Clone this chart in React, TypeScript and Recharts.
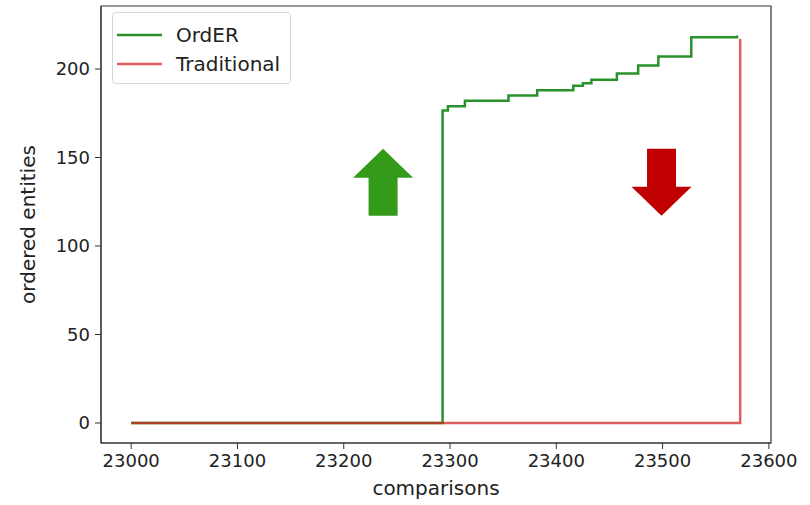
import { LineChart, Line, XAxis, YAxis, ReferenceDot, ReferenceArea, Label } from 'recharts'

// OrdER: ordered entities vs comparisons (step curve)
const orderComparisons = [23000, 23293, 23298, 23314, 23355, 23382, 23416, 23425, 23433, 23457, 23477, 23496, 23527, 23570]
const orderEntities = [0, 176.5, 179, 182, 185, 188, 190.5, 192, 194, 197.5, 202, 207, 218, 219]

// Traditional: nothing ordered until the very end
const tradComparisons = [23000, 23573, 23573]
const tradEntities = [0, 0, 217]

const xTicks = [23000, 23100, 23200, 23300, 23400, 23500, 23600]
const yTicks = [0, 50, 100, 150, 200]

// the two big arrows drawn on the plot
const arrowX = [23237, 23499]
const arrowY = [136, 136]
const arrowDir = ['up', 'down']
const arrowColor = ['#339a1a', '#c00000']

const X_DOMAIN = [22971.6, 23602]
const Y_DOMAIN = [-11.3, 235.6]

const GREEN = '#2a922a'
const RED = '#d62728'
const FONT = '"DejaVu Sans", sans-serif'

const orderData = orderComparisons.map((x, i) => ({ x, y: orderEntities[i] }))
const tradData = tradComparisons.map((x, i) => ({ x, y: tradEntities[i] }))

function Arrow(props: any) {
  const { cx, cy, dir, color } = props
  const hw = 30, sw = 14.5, head = 29, half = 33.5
  const s = dir === 'up' ? -1 : 1
  const tip = cy + s * half
  const base = tip - s * head
  const tail = cy - s * half
  const pts = [
    [cx, tip], [cx + hw, base], [cx + sw, base], [cx + sw, tail],
    [cx - sw, tail], [cx - sw, base], [cx - hw, base],
  ].map(p => p.join(',')).join(' ')
  return <polygon points={pts} fill={color} />
}

function LegendBox() {
  const items = [
    { name: 'OrdER', color: GREEN, opacity: 1 },
    { name: 'Traditional', color: RED, opacity: 0.75 },
  ]
  return (
    <div style={{
      position: 'absolute', left: 112, top: 12,
      width: 179, height: 72, border: '1px solid #d8d8d8', borderRadius: 4,
      background: 'rgba(255,255,255,0.8)', fontFamily: FONT, fontSize: 20, color: '#222',
      boxSizing: 'border-box', paddingTop: 7,
    }}>
      {items.map(it => (
        <div key={it.name} style={{ display: 'flex', alignItems: 'center', height: 29 }}>
          <svg width={60} height={10} style={{ marginLeft: 3 }}>
            <line x1={1} y1={5} x2={46} y2={5} stroke={it.color} strokeOpacity={it.opacity} strokeWidth={2.5} />
          </svg>
          <span>{it.name}</span>
        </div>
      ))}
    </div>
  )
}

export default function App() {
  return (
    <div style={{ position: 'absolute', left: 0, top: 0, width: 810, height: 505, background: '#fff' }}>
      <LineChart width={810} height={505} margin={{ top: 6, right: 39, left: 21, bottom: 22 }}>
        <XAxis
          xAxisId="b" dataKey="x" type="number" domain={X_DOMAIN} ticks={xTicks}
          allowDataOverflow height={40} stroke="#333" tickSize={6} tickMargin={5}
          tick={{ fill: '#222', fontSize: 18, fontFamily: FONT }}
        >
          <Label value="comparisons" position="bottom" offset={-2} style={{ fill: '#222', fontSize: 20, fontFamily: FONT }} />
        </XAxis>
        <YAxis
          yAxisId="l" type="number" domain={Y_DOMAIN} ticks={yTicks} allowDataOverflow
          width={80} stroke="#333" tickSize={6} tickMargin={5}
          tick={{ fill: '#222', fontSize: 18, fontFamily: FONT }}
        >
          <Label value="ordered entities" angle={-90} position="insideLeft" offset={7}
            style={{ fill: '#222', fontSize: 20, fontFamily: FONT, textAnchor: 'middle' }} />
        </YAxis>
        <ReferenceArea
          xAxisId="b" yAxisId="l" x1={X_DOMAIN[0]} x2={X_DOMAIN[1]} y1={Y_DOMAIN[0]} y2={Y_DOMAIN[1]}
          fill="none" fillOpacity={0} stroke="#333" strokeWidth={1.2} ifOverflow="visible"
        />
        <Line
          xAxisId="b" yAxisId="l" data={orderData} dataKey="y" type="stepAfter" name="OrdER"
          stroke={GREEN} strokeWidth={2.5} dot={false} isAnimationActive={false}
        />
        <Line
          xAxisId="b" yAxisId="l" data={tradData} dataKey="y" type="linear" name="Traditional"
          stroke={RED} strokeOpacity={0.75} strokeWidth={2.5} dot={false} isAnimationActive={false}
        />
        {arrowX.map((x, i) => (
          <ReferenceDot
            key={i} xAxisId="b" yAxisId="l" x={x} y={arrowY[i]} r={0}
            shape={(p: any) => <Arrow {...p} dir={arrowDir[i]} color={arrowColor[i]} />}
          />
        ))}
      </LineChart>
      <LegendBox />
    </div>
  )
}
